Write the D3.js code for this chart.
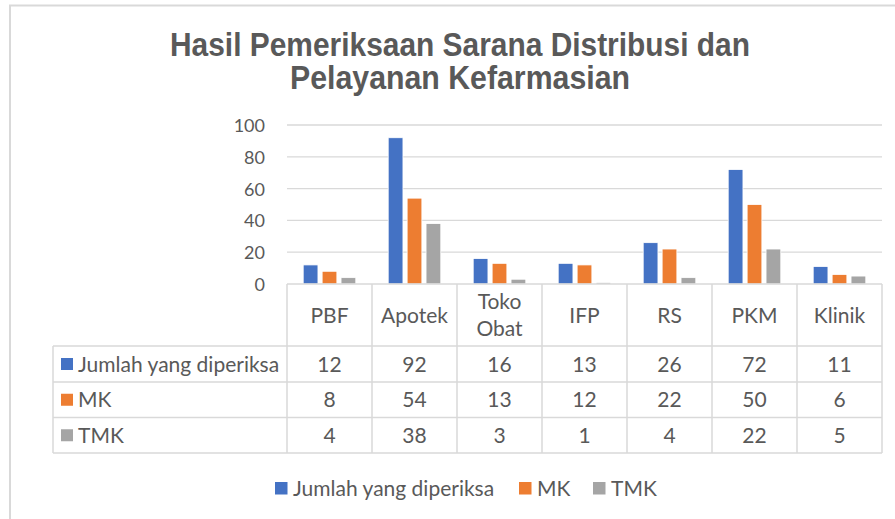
<!DOCTYPE html>
<html><head><meta charset="utf-8">
<script src="https://cdn.jsdelivr.net/npm/d3@7/dist/d3.min.js"></script>
<style>
html,body{margin:0;padding:0;background:#fff;}
svg{display:block;}
</style></head>
<body>
<svg id="c" width="895" height="519"></svg>
<script>
const categories = ["PBF","Apotek","Toko Obat","IFP","RS","PKM","Klinik"];
const categoryLines = [["PBF"],["Apotek"],["Toko","Obat"],["IFP"],["RS"],["PKM"],["Klinik"]];
const seriesNames = ["Jumlah yang diperiksa","MK","TMK"];
const jumlah = [12,92,16,13,26,72,11];
const mk = [8,54,13,12,22,50,6];
const tmk = [4,38,3,1,4,22,5];
const yTicks = [0,20,40,60,80,100];
const titleLines = ["Hasil Pemeriksaan Sarana Distribusi dan","Pelayanan Kefarmasian"];

(function(){
const seriesValues = [jumlah, mk, tmk];
const colors = ["#4472C4","#ED7D31","#A5A5A5"];
const textColor = "#595959";
const gridColor = "#D9D9D9";
const font = "Lato, 'Open Sans', sans-serif";

const svg = d3.select("#c");

// outer border
svg.append("path").attr("d","M10,900 L10,5.5 L900,5.5")
  .attr("fill","none").attr("stroke",gridColor).attr("stroke-width",2);

// title
const titleW = [580, 340];
titleLines.forEach((t,i)=>{
  svg.append("text").attr("x",460).attr("y",56+i*33)
    .attr("text-anchor","middle")
    .attr("font-family","'Liberation Sans Narrow', 'Liberation Sans', Arial, sans-serif")
    .attr("font-weight","bold").attr("font-size",32.5)
    .attr("fill",textColor)
    .attr("textLength",titleW[i]).attr("lengthAdjust","spacingAndGlyphs")
    .text(t);
});

const pLeft = 287, pRight = 882, pTop = 125, pBottom = 284;
const x = d3.scaleBand().domain(categories).range([pLeft,pRight]).padding(0);
const y = d3.scaleLinear().domain([0,100]).range([pBottom, pTop]);
const x1 = d3.scaleBand().domain(seriesNames).range([-26.3,26.3]).paddingInner(0.22);

// gridlines
svg.append("g").selectAll("line").data(yTicks.filter(d=>d>0)).join("line")
  .attr("x1",pLeft).attr("x2",pRight)
  .attr("y1",d=>y(d)).attr("y2",d=>y(d))
  .attr("stroke",gridColor).attr("stroke-width",1.3);

// y axis labels
const yAxis = d3.axisLeft(y).tickValues(yTicks).tickSize(0).tickPadding(0);
const ya = svg.append("g").attr("transform","translate(265,0)").call(yAxis);
ya.select(".domain").remove();
ya.selectAll("text").attr("font-family",font).attr("font-size",18)
  .attr("fill",textColor).attr("dy","0.36em");

// bars
seriesNames.forEach((s,si)=>{
  svg.append("g").selectAll("rect").data(categories).join("rect")
    .attr("x",c=>x(c)+x.bandwidth()/2+x1(s))
    .attr("width",x1.bandwidth())
    .attr("y",(c,i)=>y(seriesValues[si][i]))
    .attr("height",(c,i)=>y(0)-y(seriesValues[si][i]))
    .attr("fill",colors[si]).attr("stroke","#fff").attr("stroke-width",0.8);
});

// data table
const rowY = [284, 346, 382, 417.5, 453];
const tableLeft = 53;
const tg = svg.append("g");
const line = (a,b,c,d) => tg.append("line").attr("x1",a).attr("y1",b).attr("x2",c).attr("y2",d)
  .attr("stroke",gridColor).attr("stroke-width",1.5);
line(pLeft, rowY[0], pRight, rowY[0]);
for(let r=1;r<rowY.length;r++) line(tableLeft, rowY[r], pRight, rowY[r]);
line(tableLeft, rowY[1], tableLeft, rowY[4]);
categories.forEach(c=>line(x(c), rowY[0], x(c), rowY[4]));
line(pRight, rowY[0], pRight, rowY[4]);

const fs = 21;
// header labels
categoryLines.forEach((ls,i)=>{
  const cx = x(categories[i]) + x.bandwidth()/2;
  const cy = (rowY[0]+rowY[1])/2;
  ls.forEach((l,j)=>{
    tg.append("text").attr("x",cx).attr("y",cy + (j-(ls.length-1)/2)*27)
      .attr("dy","0.36em").attr("text-anchor","middle")
      .attr("font-family",font).attr("font-size",fs).attr("fill",textColor).text(l);
  });
});
// rows
seriesNames.forEach((s,si)=>{
  const cy = (rowY[si+1]+rowY[si+2])/2;
  tg.append("rect").attr("x",61).attr("y",cy-6).attr("width",12).attr("height",12).attr("fill",colors[si]);
  tg.append("text").attr("x",78).attr("y",cy).attr("dy","0.36em")
    .attr("font-family",font).attr("font-size",fs).attr("fill",textColor).text(s);
  categories.forEach((c,i)=>{
    tg.append("text").attr("x",x(c)+x.bandwidth()/2).attr("y",cy).attr("dy","0.36em")
      .attr("text-anchor","middle").attr("font-family",font).attr("font-size",fs)
      .attr("fill",textColor).text(seriesValues[si][i]);
  });
});

// legend
const legX = [275, 519, 593];
const lg = svg.append("g");
seriesNames.forEach((s,si)=>{
  lg.append("rect").attr("x",legX[si]).attr("y",482).attr("width",12.5).attr("height",12.5).attr("fill",colors[si]);
  lg.append("text").attr("x",legX[si]+18).attr("y",488).attr("dy","0.36em")
    .attr("font-family",font).attr("font-size",fs).attr("fill",textColor).text(s);
});
})();
</script>
</body></html>
